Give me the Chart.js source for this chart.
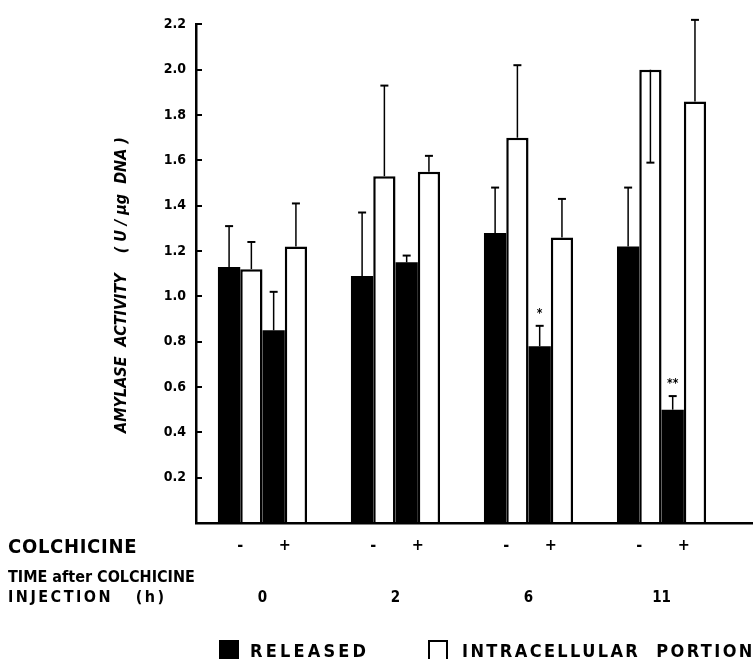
<!DOCTYPE html>
<html>
<head>
<meta charset="utf-8">
<script src="https://cdn.jsdelivr.net/npm/chart.js@4.4.0/dist/chart.umd.min.js"></script>
<style>
body { margin: 0; background: #fff; }
#main { position: relative; width: 755px; height: 660px; }
#chart { position: absolute; left: 0; top: 0; }
.lbl { position: absolute; font-family: 'DejaVu Sans Condensed', 'DejaVu Sans', sans-serif; font-weight: bold; color: #000; white-space: pre; line-height: 1; }
.box { position: absolute; width: 20px; height: 19px; box-sizing: border-box; border: 2px solid #000; }
</style>
</head>
<body>
<div id="main">
    <canvas id="chart" width="755" height="660"></canvas>
    <div class="lbl" style="left:8px; top:536px; font-size:20px; letter-spacing:0.7px;">COLCHICINE</div>
    <div class="lbl" style="left:8px; top:569px; font-size:16px;">TIME after COLCHICINE</div>
    <div class="lbl" style="left:8px; top:589px; font-size:16px; letter-spacing:2.5px;">INJECTION   (h)</div>
    <div class="box" style="left:219px; top:640px; background:#000;"></div>
    <div class="lbl" style="left:250px; top:642px; font-size:18px; letter-spacing:3.2px;">RELEASED</div>
    <div class="box" style="left:428px; top:640px; background:#fff; border-bottom:none;"></div>
    <div class="lbl" style="left:462px; top:642px; font-size:18px; letter-spacing:2.4px;">INTRACELLULAR  PORTION</div>
</div>
<script>
// hours after colchicine injection
var timeLabels = ['0', '2', '6', '11'];

// amylase activity, U / ug DNA
var releasedMinus = [1.13, 1.09, 1.28, 1.22];
var intraMinus = [1.12, 1.53, 1.70, 2.00];
var releasedPlus = [0.85, 1.15, 0.78, 0.50];
var intraPlus = [1.22, 1.55, 1.26, 1.86];

// where each error bar ends
var releasedMinusErr = [1.31, 1.37, 1.48, 1.48];
var intraMinusErr = [1.24, 1.93, 2.02, 1.59];
var releasedPlusErr = [1.02, 1.18, 0.87, 0.56];
var intraPlusErr = [1.41, 1.62, 1.43, 2.22];

var releasedPlusSig = ['', '', '*', '**'];

var colchicineSigns = ['-', '-', '+', '+'];

var FONT = "'DejaVu Sans Condensed', 'DejaVu Sans', sans-serif";
Chart.defaults.font.family = FONT;
Chart.defaults.color = '#000';

function pts(arr) {
    return arr.map(function(v, i) { return { x: i, y: v }; });
}

var errorBars = {
    id: 'errorBars',
    afterDatasetsDraw: function(chart) {
        var ctx = chart.ctx;
        var y = chart.scales.y;
        ctx.save();
        ctx.strokeStyle = '#000';
        ctx.fillStyle = '#000';
        chart.data.datasets.forEach(function(ds, d) {
            var meta = chart.getDatasetMeta(d);
            meta.data.forEach(function(bar, i) {
                var end = y.getPixelForValue(ds.errEnd[i]);
                ctx.lineWidth = 1.5;
                ctx.beginPath();
                ctx.moveTo(bar.x, bar.y);
                ctx.lineTo(bar.x, end);
                ctx.stroke();
                ctx.lineWidth = 2;
                ctx.beginPath();
                ctx.moveTo(bar.x - 4, end);
                ctx.lineTo(bar.x + 4, end);
                ctx.stroke();
                if (ds.sig && ds.sig[i]) {
                    ctx.font = 'bold 12px ' + FONT;
                    ctx.textAlign = 'center';
                    ctx.textBaseline = 'middle';
                    ctx.fillText(ds.sig[i], bar.x, end - 12);
                }
            });
        });
        ctx.restore();
    }
};

var extraText = {
    id: 'extraText',
    afterDraw: function(chart) {
        var ctx = chart.ctx;
        ctx.save();
        ctx.fillStyle = '#000';
        // colchicine -/+ under each pair of bars
        ctx.font = 'bold 16px ' + FONT;
        ctx.textAlign = 'center';
        ctx.textBaseline = 'middle';
        [[0, 1], [2, 3]].forEach(function(pair) {
            var a = chart.getDatasetMeta(pair[0]).data;
            var b = chart.getDatasetMeta(pair[1]).data;
            for (var i = 0; i < a.length; i++) {
                ctx.fillText(colchicineSigns[pair[0]], (a[i].x + b[i].x) / 2, 546);
            }
        });
        // y axis title
        ctx.translate(122, 285);
        ctx.rotate(-Math.PI / 2);
        ctx.font = 'italic bold 16px ' + FONT;
        ctx.fillText('AMYLASE  ACTIVITY    ( U / \u00b5g  DNA )', 0, 0);
        ctx.restore();
    }
};

var ctx = document.getElementById('chart').getContext('2d');
var chart = new Chart(ctx, {
    type: 'bar',
    data: {
        datasets: [{
            label: 'RELEASED',
            data: pts(releasedMinus),
            errEnd: releasedMinusErr,
            backgroundColor: '#000',
            borderColor: '#000',
            borderWidth: 0
        }, {
            label: 'INTRACELLULAR PORTION',
            data: pts(intraMinus),
            errEnd: intraMinusErr,
            backgroundColor: '#fff',
            borderColor: '#000',
            borderWidth: 2.5
        }, {
            label: 'RELEASED',
            data: pts(releasedPlus),
            errEnd: releasedPlusErr,
            sig: releasedPlusSig,
            backgroundColor: '#000',
            borderColor: '#000',
            borderWidth: 0
        }, {
            label: 'INTRACELLULAR PORTION',
            data: pts(intraPlus),
            errEnd: intraPlusErr,
            backgroundColor: '#fff',
            borderColor: '#000',
            borderWidth: 2.5
        }]
    },
    options: {
        responsive: false,
        animation: false,
        devicePixelRatio: 1,
        categoryPercentage: 0.67,
        barPercentage: 1,
        layout: { padding: { top: 22, right: 3, left: 0, bottom: 0 } },
        plugins: {
            legend: { display: false },
            tooltip: { enabled: false }
        },
        scales: {
            x: {
                type: 'linear',
                offset: false,
                min: -0.5,
                max: 3.68,
                grid: { display: false, offset: false },
                border: { display: true, color: '#000', width: 2.5 },
                afterBuildTicks: function(s) {
                    s.ticks = timeLabels.map(function(t, i) { return { value: i }; });
                },
                afterFit: function(s) { s.height = 137; },
                ticks: {
                    padding: 58,
                    font: { size: 15, weight: 'bold' },
                    callback: function(v, i) { return timeLabels[i]; }
                }
            },
            y: {
                min: 0,
                max: 2.2,
                grid: { drawOnChartArea: false, tickLength: -6, color: '#000', lineWidth: 2 },
                border: { display: true, color: '#000', width: 2.5 },
                afterFit: function(s) { s.width = 196; },
                ticks: {
                    stepSize: 0.2,
                    padding: 16,
                    font: { size: 14, weight: 'bold' },
                    callback: function(v) { return Math.abs(v) < 1e-9 ? '' : v.toFixed(1); }
                }
            }
        }
    },
    plugins: [errorBars, extraText]
});
</script>
</body>
</html>
